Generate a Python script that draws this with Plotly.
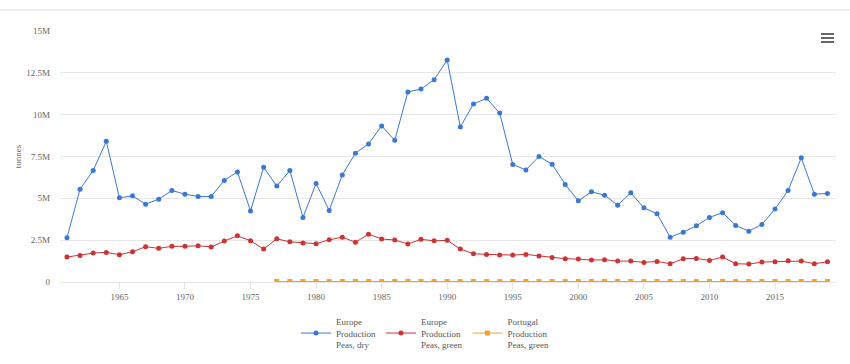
import plotly.graph_objects as go

years = list(range(1961, 2020))

europe_peas_dry = [
    2.64, 5.55, 6.66, 8.41, 5.03, 5.15, 4.65, 4.95, 5.47, 5.25,
    5.11, 5.11, 6.07, 6.58, 4.25, 6.86, 5.73, 6.66, 3.86, 5.89,
    4.28, 6.40, 7.70, 8.25, 9.33, 8.47, 11.36, 11.53, 12.09, 13.26,
    9.27, 10.64, 10.98, 10.10, 7.02, 6.70, 7.50, 7.04, 5.83, 4.85,
    5.39, 5.19, 4.59, 5.33, 4.43, 4.08, 2.68, 2.98, 3.36, 3.86,
    4.14, 3.38, 3.04, 3.44, 4.36, 5.47, 7.42, 5.25, 5.29,
]
europe_peas_green = [
    1.49, 1.59, 1.73, 1.77, 1.63, 1.81, 2.11, 2.01, 2.13, 2.13,
    2.17, 2.09, 2.45, 2.76, 2.46, 1.97, 2.58, 2.40, 2.33, 2.29,
    2.52, 2.68, 2.37, 2.86, 2.57, 2.51, 2.27, 2.55, 2.46, 2.49,
    1.97, 1.69, 1.65, 1.61, 1.61, 1.65, 1.55, 1.47, 1.39, 1.37,
    1.31, 1.33, 1.25, 1.25, 1.17, 1.23, 1.09, 1.39, 1.41, 1.29,
    1.49, 1.09, 1.07, 1.19, 1.21, 1.27, 1.25, 1.09, 1.21,
]
portugal_years = list(range(1977, 2020))
portugal_peas_green = [
    0.030, 0.032, 0.028, 0.030, 0.027, 0.029, 0.031, 0.030, 0.028, 0.030,
    0.032, 0.031, 0.029, 0.030, 0.028, 0.027, 0.026, 0.027, 0.028, 0.030,
    0.029, 0.028, 0.027, 0.029, 0.030, 0.031, 0.029, 0.028, 0.027, 0.028,
    0.030, 0.029, 0.028, 0.030, 0.031, 0.029, 0.028, 0.030, 0.032, 0.031,
    0.030, 0.029, 0.030,
]

y_tick_vals = [0, 2.5e6, 5e6, 7.5e6, 10e6, 12.5e6, 15e6]
y_tick_text = ["0", "2.5M", "5M", "7.5M", "10M", "12.5M", "15M"]
x_tick_vals = [1965, 1970, 1975, 1980, 1985, 1990, 1995, 2000, 2005, 2010, 2015]

series = [
    ("Europe<br>Production<br>Peas, dry", years, europe_peas_dry, "#3a78d4", "circle"),
    ("Europe<br>Production<br>Peas, green", years, europe_peas_green, "#cc3333", "circle"),
    ("Portugal<br>Production<br>Peas, green", portugal_years, portugal_peas_green, "#f5a22a", "square"),
]

fig = go.Figure()
for name, xs, vals, color, sym in series:
    fig.add_trace(go.Scatter(
        x=xs, y=[v * 1e6 for v in vals], name=name, mode="lines+markers",
        line=dict(color=color, width=1),
        marker=dict(color=color, size=5, symbol=sym),
    ))

FONT = "Liberation Serif, Times New Roman, serif"
L, R, T, B = 60, 14, 31, 82
pw = 850 - L - R
ph = 364 - T - B

shapes = [
    dict(type="line", xref="paper", yref="paper", x0=-L / pw, x1=1 + R / pw,
         y0=1 + (T - 10) / ph, y1=1 + (T - 10) / ph, line=dict(color="#dddddd", width=1)),
]
for py in (34, 38, 42):
    yy = 1 - (py - T) / ph
    shapes.append(dict(type="line", xref="paper", yref="paper",
                       x0=(821 - L) / pw, x1=(834 - L) / pw, y0=yy, y1=yy,
                       line=dict(color="#666666", width=2)))

fig.update_layout(
    width=850, height=364,
    margin=dict(l=L, r=R, t=T, b=B, autoexpand=False),
    paper_bgcolor="white", plot_bgcolor="white",
    font=dict(family=FONT, size=9, color="#666666"),
    showlegend=True,
    legend=dict(orientation="h", xref="container", yref="container",
                x=0.5, xanchor="center", y=1 - 309 / 364, yanchor="top",
                font=dict(family=FONT, size=9, color="#555555"),
                itemwidth=30, tracegroupgap=0),
    xaxis=dict(range=[1960.47, 2019.65], tickvals=x_tick_vals, showgrid=False,
               showline=True, linecolor="#e6e6e6", ticks="outside", ticklen=6,
               tickcolor="#e6e6e6", zeroline=False, automargin=False,
               ticklabelstandoff=0,
               tickfont=dict(family=FONT, size=9, color="#666666")),
    yaxis=dict(range=[0, 15e6], tickvals=y_tick_vals, ticktext=y_tick_text,
               showgrid=True, gridcolor="#e6e6e6", zeroline=False, automargin=False,
               ticklabelstandoff=9,
               title=dict(text="tonnes", font=dict(family=FONT, size=9, color="#666666"), standoff=3),
               tickfont=dict(family=FONT, size=9, color="#666666")),
    shapes=shapes,
)

fig.write_html("out.html", config={"displayModeBar": False},
               post_script="document.body.style.margin='0';document.body.style.overflow='hidden';")
